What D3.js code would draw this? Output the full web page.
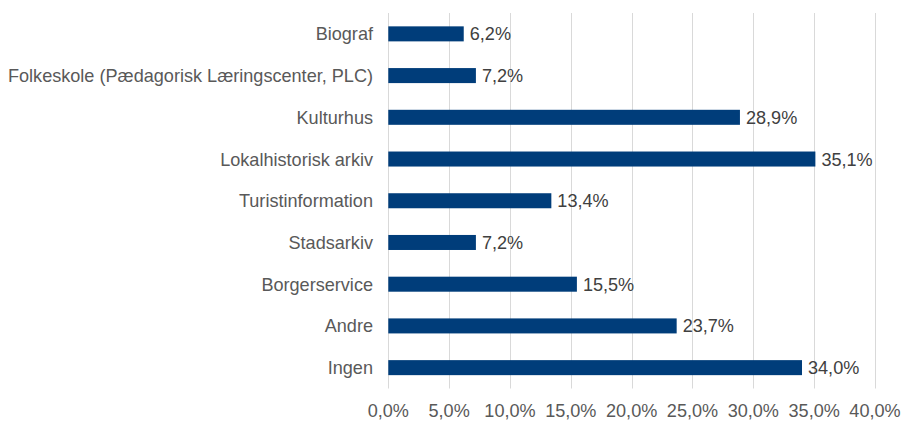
<!DOCTYPE html>
<html><head><meta charset="utf-8">
<script src="https://cdn.jsdelivr.net/npm/d3@7"></script>
<style>body{margin:0;background:#fff}svg{display:block}text{font-family:"Liberation Sans",Arial,sans-serif}</style>
</head><body><svg id="c" width="906" height="421"></svg>
<script>
const categories = ["Biograf","Folkeskole (Pædagorisk Læringscenter, PLC)","Kulturhus","Lokalhistorisk arkiv","Turistinformation","Stadsarkiv","Borgerservice","Andre ","Ingen"];
const values = [6.2,7.2,28.9,35.1,13.4,7.2,15.5,23.7,34.0];
const ticks = [0,5,10,15,20,25,30,35,40];
const fmt = v => v.toFixed(1).replace(".", ",") + "%";

const svg = d3.select("#c");
const x = d3.scaleLinear().domain([0,40]).range([388.3,875]);
const y = d3.scaleBand().domain(categories).range([13,388.5]).paddingInner(0.64).paddingOuter(0.32);

svg.append("g").selectAll("line").data(ticks).join("line")
  .attr("x1",d=>Math.round(x(d))+0.5).attr("x2",d=>Math.round(x(d))+0.5)
  .attr("y1",13).attr("y2",388.5).attr("stroke","#d9d9d9").attr("stroke-width",1);

svg.append("g").selectAll("rect").data(values).join("rect")
  .attr("x",x(0)).attr("y",(d,i)=>y(categories[i]))
  .attr("width",d=>x(d)-x(0)).attr("height",y.bandwidth())
  .attr("fill","#003d7a");

svg.append("g").selectAll("text").data(values).join("text")
  .attr("x",d=>x(d)+6).attr("y",(d,i)=>y(categories[i])+y.bandwidth()/2)
  .attr("dy","0.36em").attr("font-size",18.1).attr("fill","#404040")
  .text(fmt);

svg.append("g").selectAll("text").data(categories).join("text")
  .attr("x",373).attr("y",d=>y(d)+y.bandwidth()/2).attr("dy","0.36em")
  .attr("text-anchor","end").attr("font-size",18.1).attr("fill","#595959")
  .text(d=>d);

svg.append("g").selectAll("text").data(ticks).join("text")
  .attr("x",d=>x(d)).attr("y",410).attr("dy","0.36em")
  .attr("text-anchor","middle").attr("font-size",18.1).attr("fill","#595959")
  .text(d=>fmt(d));
</script></body></html>
